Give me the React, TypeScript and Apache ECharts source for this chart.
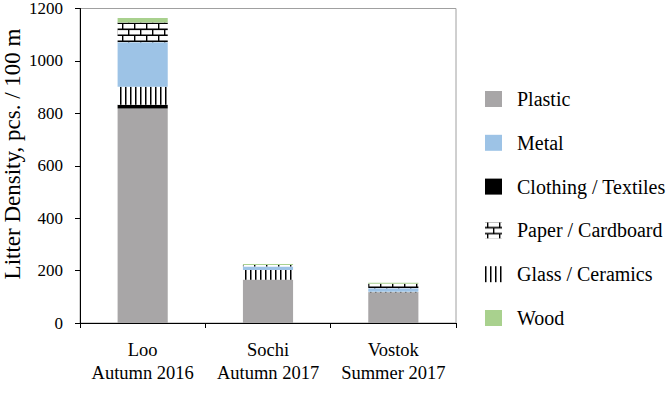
import React, { useEffect, useRef } from "react";
import * as echarts from "echarts";

const categories = ["Loo\nAutumn 2016", "Sochi\nAutumn 2017", "Vostok\nSummer 2017"];
const plastic = [818, 164, 116];
const clothing = [15, 1, 1];
const glass = [68, 37, 2];
const metal = [170, 14, 14];
const paper = [76, 5, 17];
const wood = [17, 4, 4];
const legendOrder = ["Plastic", "Metal", "Clothing / Textiles", "Paper / Cardboard", "Glass / Ceramics", "Wood"];
const yAxisName = "Litter Density, pcs. / 100 m";

const FONT = "Liberation Serif";

function glassPattern() {
  const c = document.createElement("canvas");
  c.width = 5;
  c.height = 5;
  const g = c.getContext("2d")!;
  g.fillStyle = "#ffffff";
  g.fillRect(0, 0, 5, 5);
  g.fillStyle = "#000000";
  g.fillRect(0, 0, 1.5, 5);
  return { image: c, repeat: "repeat", imageWidth: 5, imageHeight: 5 };
}

function paperPattern() {
  const w = 12, h = 12;
  const c = document.createElement("canvas");
  c.width = w;
  c.height = h;
  const g = c.getContext("2d")!;
  g.fillStyle = "#ffffff";
  g.fillRect(0, 0, w, h);
  g.fillStyle = "#000000";
  g.fillRect(0, 4.5, w, 1.6);
  g.fillRect(0, 10.5, w, 1.6);
  g.fillRect(2, 0, 1.4, 6);
  g.fillRect(8, 6, 1.4, 6);
  return { image: c, repeat: "repeat", imageWidth: w, imageHeight: h };
}

export default function App() {
  const ref = useRef<HTMLDivElement>(null);
  useEffect(() => {
    document.body.style.margin = "0";
    const chart = echarts.init(ref.current!, null, { renderer: "svg" });
    const mk = (name: string, data: number[], color: any) => ({
      name,
      type: "bar",
      stack: "total",
      barWidth: "40%",
      data,
      itemStyle: { color },
      emphasis: { disabled: true },
    });
    chart.setOption({
      animation: false,
      grid: {
        left: 80,
        right: 210,
        top: 6,
        bottom: 70,
        show: true,
        borderColor: "#a0a0a0",
        borderWidth: 1,
        backgroundColor: "transparent",
      },
      legend: {
        orient: "vertical",
        left: 480,
        top: 84,
        icon: "rect",
        itemWidth: 17,
        itemHeight: 16,
        itemGap: 23.8,
        data: legendOrder,
        selectedMode: false,
        textStyle: {
          fontFamily: FONT,
          fontSize: 20,
          color: "#000",
          padding: [0, 0, 0, 10],
        },
      },
      xAxis: {
        type: "category",
        data: categories,
        axisLine: { lineStyle: { color: "#000", width: 1 } },
        axisTick: { show: true, length: 5, lineStyle: { color: "#000" } },
        axisLabel: {
          fontFamily: FONT,
          fontSize: 18.5,
          color: "#000",
          lineHeight: 23,
          margin: 15,
          interval: 0,
        },
      },
      yAxis: {
        type: "value",
        min: 0,
        max: 1200,
        interval: 200,
        splitLine: { show: false },
        axisLine: { show: true, lineStyle: { color: "#000", width: 1 } },
        axisTick: { show: true, length: 5, lineStyle: { color: "#000" } },
        axisLabel: {
          fontFamily: FONT,
          fontSize: 17,
          color: "#000",
          margin: 17,
          formatter: (v: number) => String(v),
        },
      },
      graphic: [
        {
          type: "text",
          x: 12,
          y: 154,
          rotation: Math.PI / 2,
          style: {
            text: yAxisName,
            font: `23px ${FONT}`,
            fill: "#000",
            textAlign: "center",
            textVerticalAlign: "middle",
          },
        },
      ],
      series: [
        mk("Plastic", plastic, "#a8a6a7"),
        mk("Clothing / Textiles", clothing, "#000000"),
        mk("Glass / Ceramics", glass, glassPattern()),
        mk("Metal", metal, "#9dc3e6"),
        mk("Paper / Cardboard", paper, paperPattern()),
        mk("Wood", wood, "#a9d18e"),
      ],
    });
    return () => chart.dispose();
  }, []);
  return <div ref={ref} style={{ width: 666, height: 393 }} />;
}
